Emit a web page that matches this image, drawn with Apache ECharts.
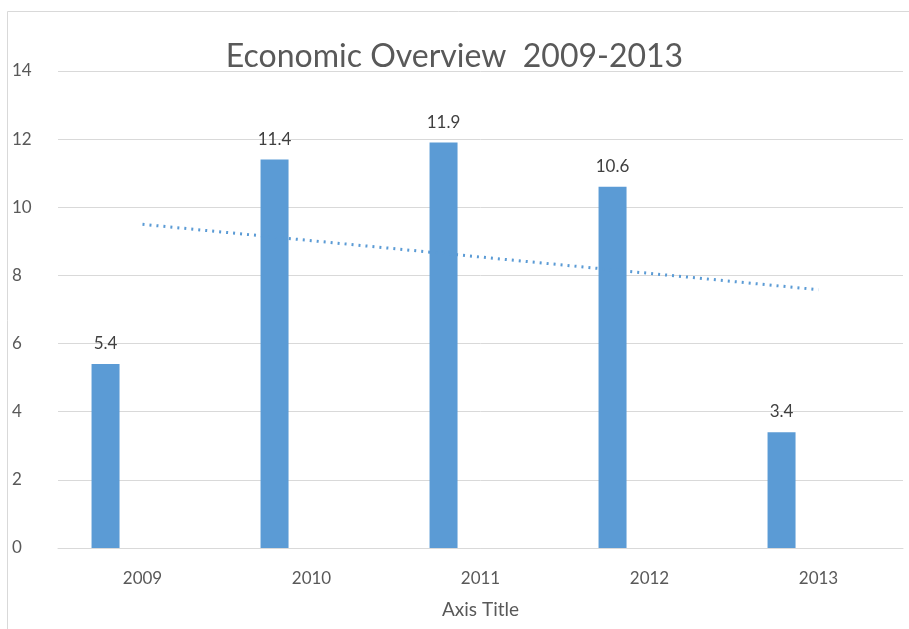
<!DOCTYPE html>
<html>
<head>
<meta charset="utf-8">
<script src="https://cdn.jsdelivr.net/npm/echarts@6/dist/echarts.min.js"></script>
<style>
  html, body { margin: 0; padding: 0; background: #fff; }
  #main { width: 909px; height: 629px; }
</style>
</head>
<body>
<div id="main"></div>
<script>
// data
var years = ["2009", "2010", "2011", "2012", "2013"];
var values = [5.4, 11.4, 11.9, 10.6, 3.4];
var trend = [9.5, 9.02, 8.54, 8.06, 7.58]; // linear trendline as drawn
var yTicks = [0, 2, 4, 6, 8, 10, 12, 14];

var chart = echarts.init(document.getElementById("main"));
var font = "Lato, 'Open Sans', sans-serif";

chart.setOption({
  backgroundColor: "#fff",
  animation: false,
  title: {
    text: "Economic Overview  2009-2013",
    left: "center",
    top: 36,
    textStyle: { fontFamily: font, fontSize: 32, fontWeight: "normal", color: "#595959" }
  },
  graphic: [{
    type: "rect",
    shape: { x: 7.5, y: 11.5, width: 920, height: 640 },
    style: { fill: null, stroke: "#d9d9d9", lineWidth: 1 },
    silent: true
  }],
  grid: { left: 58, right: 6, top: 71, bottom: 81 },
  xAxis: {
    type: "category",
    data: years,
    name: "Axis Title",
    nameLocation: "middle",
    nameGap: 52,
    nameTextStyle: { fontFamily: font, fontSize: 19, color: "#595959" },
    axisLine: { lineStyle: { color: "#d9d9d9" } },
    axisTick: { show: false },
    axisLabel: { fontFamily: font, fontSize: 17, color: "#595959", margin: 22 }
  },
  yAxis: {
    type: "value",
    min: yTicks[0],
    max: yTicks[yTicks.length - 1],
    interval: 2,
    axisLine: { show: false },
    axisTick: { show: false },
    splitLine: { lineStyle: { color: "#d9d9d9" } },
    axisLabel: { fontFamily: font, fontSize: 17, color: "#595959", margin: 46, align: "left" }
  },
  series: [
    {
      type: "bar",
      data: values,
      barWidth: 28,
      barGap: "164%",
      itemStyle: { color: "#5b9bd5" },
      label: {
        show: true,
        position: "top",
        distance: 12,
        fontFamily: font,
        fontSize: 17,
        color: "#404040"
      }
    },
    {
      type: "bar",
      data: [null, null, null, null, null],
      barWidth: 28
    },
    {
      type: "line",
      data: trend,
      symbol: "none",
      lineStyle: { color: "#5b9bd5", width: 3, type: [2, 5] },
      z: 3
    }
  ]
});
</script>
</body>
</html>
